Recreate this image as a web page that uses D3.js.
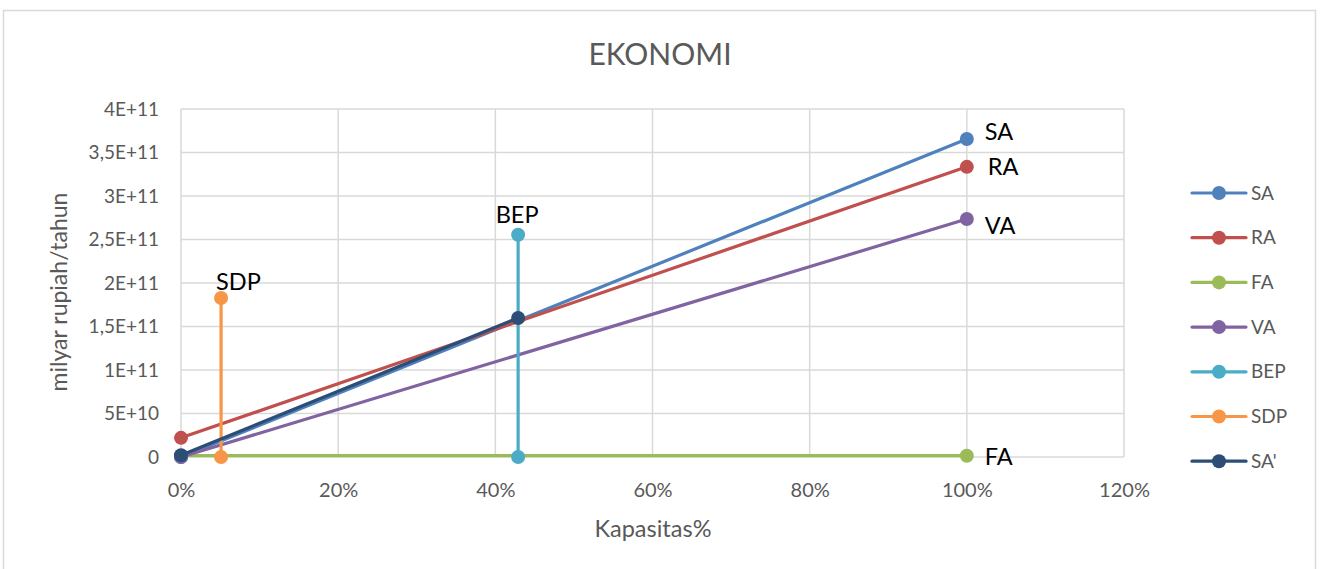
<!DOCTYPE html>
<html><head><meta charset="utf-8">
<script src="https://cdn.jsdelivr.net/npm/d3@7"></script>
<style>
html,body{margin:0;padding:0;background:#fff;}
svg{display:block;font-family:Lato,"Open Sans",sans-serif;}
</style></head>
<body>
<svg id="c" width="1320" height="569"></svg>
<script>
const seriesNames = ["SA","RA","FA","VA","BEP","SDP","SA'"];
const seriesColors = ["#4F81BD","#C0504D","#9BBB59","#8064A2","#4BACC6","#F79646","#2C4D75"];
const saX = [0, 100], saY = [0, 3.655e11];
const raX = [0, 100], raY = [2.2e10, 3.335e11];
const faX = [0, 100], faY = [1.5e9, 1.5e9];
const vaX = [0, 100], vaY = [0, 2.735e11];
const bepX = [42.9, 42.9], bepY = [0, 2.555e11];
const sdpX = [5.1, 5.1], sdpY = [0, 1.828e11];
const sa2X = [0, 42.9], sa2Y = [2e9, 1.598e11];
const xTicks = [0,20,40,60,80,100,120];
const xTickLabels = ["0%","20%","40%","60%","80%","100%","120%"];
const yTicks = [0,5e10,1e11,1.5e11,2e11,2.5e11,3e11,3.5e11,4e11];
const yTickLabels = ["0","5E+10","1E+11","1,5E+11","2E+11","2,5E+11","3E+11","3,5E+11","4E+11"];
const pointLabels = [
  {text:"SA", s:0, i:1, dx:18, dy:1, anchor:"start"},
  {text:"RA", s:1, i:1, dx:21, dy:8, anchor:"start"},
  {text:"VA", s:3, i:1, dx:18, dy:15, anchor:"start"},
  {text:"FA", s:2, i:1, dx:18, dy:9, anchor:"start"},
  {text:"BEP", s:4, i:1, dx:-1, dy:-12, anchor:"middle"},
  {text:"SDP", s:5, i:1, dx:-5, dy:-8, anchor:"start"}
];

const seriesX = [saX, raX, faX, vaX, bepX, sdpX, sa2X];
const seriesY = [saY, raY, faY, vaY, bepY, sdpY, sa2Y];
const series = seriesNames.map((n,k)=>({name:n, color:seriesColors[k],
  pts: seriesX[k].map((x,i)=>({x, y:seriesY[k][i]}))}));

const svg = d3.select("#c");
svg.append("rect").attr("x",3.5).attr("y",10.5).attr("width",1312).attr("height",570)
  .attr("fill","#fff").attr("stroke","#d9d9d9").attr("stroke-width",1.5);

const x = d3.scaleLinear().domain([0,120]).range([181,1124]);
const y = d3.scaleLinear().domain([0,4e11]).range([457,109]);

const g = svg.append("g");
// gridlines
g.append("g").selectAll("line").data(yTicks).join("line")
  .attr("x1",x(0)).attr("x2",x(120)).attr("y1",d=>y(d)).attr("y2",d=>y(d))
  .attr("stroke","#d9d9d9").attr("stroke-width",1.5);
g.append("g").selectAll("line").data(xTicks).join("line")
  .attr("x1",d=>x(d)).attr("x2",d=>x(d)).attr("y1",y(0)).attr("y2",y(4e11))
  .attr("stroke","#d9d9d9").attr("stroke-width",1.5);

// axes via d3 axis
const xAxis = d3.axisBottom(x).tickValues(xTicks).tickFormat((d,i)=>xTickLabels[i]).tickSize(0);
const xa = svg.append("g").attr("transform",`translate(0,${y(0)})`).call(xAxis);
xa.select(".domain").remove();
xa.selectAll("text").attr("font-size",20).attr("fill","#595959").attr("font-family","Lato, sans-serif")
  .attr("y",40).attr("dy",0);
const yAxis = d3.axisLeft(y).tickValues(yTicks).tickFormat((d,i)=>yTickLabels[i]).tickSize(0).tickPadding(22);
const ya = svg.append("g").attr("transform",`translate(${x(0)},0)`).call(yAxis);
ya.select(".domain").remove();
ya.selectAll("text").attr("font-size",19).attr("fill","#595959").attr("font-family","Lato, sans-serif");

// title
svg.append("text").attr("x",660).attr("y",65).attr("text-anchor","middle")
  .attr("font-size",30).attr("fill","#595959").text("EKONOMI");
svg.append("text").attr("x",653).attr("y",537).attr("text-anchor","middle")
  .attr("font-size",23.5).attr("fill","#595959").text("Kapasitas%");
svg.append("text").attr("transform","translate(67,292) rotate(-90)").attr("text-anchor","middle")
  .attr("font-size",23).attr("fill","#595959").text("milyar rupiah/tahun");

// lines
const line = d3.line().x(d=>x(d.x)).y(d=>y(d.y));
series.forEach(s=>{
  g.append("path").datum(s.pts).attr("d",line).attr("fill","none")
    .attr("stroke",s.color).attr("stroke-width",3.2).attr("stroke-linecap","round");
  g.append("g").selectAll("circle").data(s.pts).join("circle")
    .attr("cx",d=>x(d.x)).attr("cy",d=>y(d.y)).attr("r",7).attr("fill",s.color);
});

// data labels
pointLabels.forEach(l=>{
  const p = series[l.s].pts[l.i];
  svg.append("text").attr("x",x(p.x)+l.dx).attr("y",y(p.y)+l.dy)
    .attr("text-anchor", l.anchor)
    .attr("font-size",23.5).attr("fill","#000").text(l.text);
});

// legend
const lg = svg.append("g");
series.forEach((s,k)=>{
  const yy = 193 + k*44.7;
  lg.append("line").attr("x1",1192).attr("x2",1246).attr("y1",yy).attr("y2",yy)
    .attr("stroke",s.color).attr("stroke-width",3.2).attr("stroke-linecap","round");
  lg.append("circle").attr("cx",1219).attr("cy",yy).attr("r",7).attr("fill",s.color);
  lg.append("text").attr("x",1251).attr("y",yy).attr("dy","0.35em")
    .attr("font-size",19).attr("fill","#595959").text(s.name);
});
</script>
</body></html>
